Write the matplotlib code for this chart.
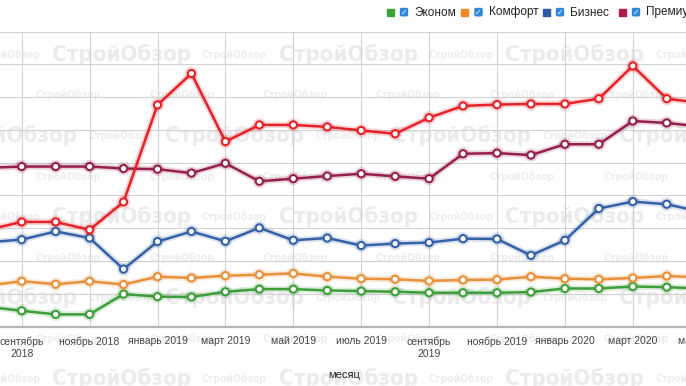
import matplotlib
matplotlib.use("Agg")
import matplotlib.pyplot as plt
import matplotlib.patheffects as pe
from matplotlib.patches import Rectangle, FancyBboxPatch

# Данные: средняя цена по классам жилья, помесячно
months = ["август 2018", "сентябрь\n2018", "октябрь 2018", "ноябрь 2018",
          "декабрь 2018", "январь 2019", "февраль 2019", "март 2019",
          "апрель 2019", "май 2019", "июнь 2019", "июль 2019", "август 2019",
          "сентябрь\n2019", "октябрь 2019", "ноябрь 2019", "декабрь 2019",
          "январь 2020", "февраль 2020", "март 2020", "апрель 2020", "май 2020"]
series_names = ["Эконом", "Комфорт", "Бизнес", "Премиум", "Элит"]
econom = [60, 48, 37, 37, 99, 91, 90, 106, 114, 114, 110, 108, 106, 103,
          103, 103, 105, 116, 116, 122, 120, 116]
komfort = [125, 138, 129, 138, 128, 152, 148, 155, 158, 162, 152, 146, 144,
           139, 142, 143, 152, 146, 144, 148, 154, 150]
biznes = [257, 265, 290, 270, 175, 259, 290, 260, 301, 263, 270, 247, 253,
          256, 268, 267, 217, 263, 360, 381, 373, 350]
premium = [484, 488, 488, 488, 482, 480, 468, 498, 443, 451, 459, 466, 458,
           451, 527, 529, 523, 556, 556, 627, 621, 610]
elit = [295, 319, 319, 295, 380, 676, 772, 564, 615, 615, 609, 598, 588,
        637, 673, 677, 679, 679, 695, 795, 695, 682]

line_colors = ["#3f9e3a", "#e8903a", "#3562a6", "#96204c", "#e52228"]
legend_colors = ["#3aa535", "#f0862a", "#2d5aa0", "#b01a4a", "#e52228"]

W, H = 686, 386
fig = plt.figure(figsize=(W / 100, H / 100), dpi=100)
fig.patch.set_facecolor("white")


def fx(px):
    return px / W


def fy(py):
    return 1 - py / H


# водяные знаки (под графиком)
big_kw = dict(family="DejaVu Sans", stretch="condensed", weight="bold",
              fontsize=16, color="#ebebeb", ha="center", va="center", zorder=-1)
small_kw = dict(family="DejaVu Sans", stretch="condensed", weight="bold",
                fontsize=7.5, color="#ededed", ha="center", va="center", zorder=-1)
for r, yy in enumerate([55, 136, 217, 298, 379]):
    shift = 0 if r % 2 == 0 else -113.5
    for k in range(-1, 5):
        fig.text(fx(121 + shift + 227 * k), fy(yy), "СтройОбзор", **big_kw)
        fig.text(fx(7.5 + shift + 227 * k), fy(yy), "СтройОбзор", **small_kw)
for yy in [95, 177, 258, 339]:
    for k in range(-1, 8):
        fig.text(fx(68 + 113.5 * k), fy(yy), "СтройОбзор", **small_kw)

# оси: растянуты за края картинки, как на обрезанном скриншоте
step = 33.95
x0 = -12.25 - 0.5 * step
x1 = -12.25 + 21.5 * step
ax = fig.add_axes([fx(x0), fy(326.5), (x1 - x0) / W, (326.5 - 31.5) / H])
ax.patch.set_alpha(0)
ax.set_xlim(-0.5, 21.5)
ax.set_ylim(0, 900)

x = list(range(len(months)))
for vals, c in zip([econom, komfort, biznes, premium, elit], line_colors):
    ax.plot(x, vals, color=c, lw=1.8, marker="o", ms=5.2, mfc="white",
            mec=c, mew=1.5, zorder=3,
            path_effects=[pe.Stroke(linewidth=4.5, foreground=c, alpha=0.18),
                          pe.Normal()])

ax.set_yticks(range(0, 901, 100))
ax.set_yticklabels([])
ax.set_xticks(x[1::2])
ax.set_xticklabels(months[1::2], fontsize=7.5, color="#444444",
                   family="Liberation Sans", linespacing=1.3)
ax.tick_params(axis="both", length=0, pad=7)
ax.grid(True, color="#d2d2d2", lw=0.8, zorder=1)
ax.set_axisbelow(True)
for s in ["left", "right", "top"]:
    ax.spines[s].set_visible(False)
ax.spines["bottom"].set_color("#b5b5b5")
ax.spines["bottom"].set_linewidth(1.6)

fig.text(fx(344), fy(375), "месяц", fontsize=8, color="#222222",
         family="Liberation Sans", ha="center", va="center")

# легенда сверху справа
leg_x = [387, 461.5, 543, 619, 704]
for name, c, lx in zip(series_names, legend_colors, leg_x):
    fig.patches.append(Rectangle((fx(lx), fy(15.5)), fx(6.5), 6.5 / H,
                                 transform=fig.transFigure, color=c))
    fig.patches.append(FancyBboxPatch((fx(lx + 13.5), fy(15.8)), fx(7), 7.3 / H,
                                      boxstyle="round,pad=0,rounding_size=0.002",
                                      transform=fig.transFigure,
                                      color="#2f86d8"))
    fig.text(fx(lx + 17), fy(12.2), "✓", fontsize=5.5, color="white",
             weight="bold", ha="center", va="center")
    fig.text(fx(lx + 27), fy(12.5), name, fontsize=8.5, color="#222222",
             family="Liberation Sans", ha="left", va="center")

fig.savefig("out.png", dpi=100)
